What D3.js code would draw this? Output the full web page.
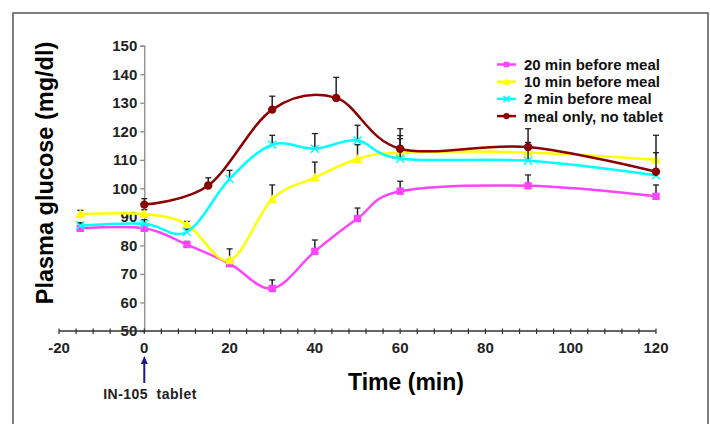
<!DOCTYPE html>
<html><head><meta charset="utf-8">
<script src="https://cdn.jsdelivr.net/npm/d3@7/dist/d3.min.js"></script>
<style>body{margin:0;background:#fff}text{font-family:"Liberation Sans",Arial,sans-serif}</style>
</head><body>
<svg id="chart" width="710" height="424"></svg>
<script>
// ---- data ----
const seriesNames = ["20 min before meal", "10 min before meal", "2 min before meal", "meal only, no tablet"];
const seriesColors = ["#ff44ff", "#ffff00", "#00ffff", "#8b0000"];
const seriesMarkers = ["square", "triangle", "cross", "circle"];

const times20 = [-15, 0, 10, 20, 30, 40, 50, 60, 90, 120];
const glucose20 = [86, 86, 80.3, 73.6, 64.9, 77.9, 89.4, 99, 100.9, 97.2];
const err20 = [1.8, 1.5, 1.1, 1.5, 3, 4, 3.7, 3.5, 3.8, 4];

const times10 = [-15, 0, 10, 20, 30, 40, 50, 60, 90, 120];
const glucose10 = [91, 91, 87.4, 74.8, 96.2, 103.8, 110.3, 112.5, 112.6, 110];
const err10 = [1.3, 1.5, 1, 4, 5, 5.4, 5, 6, 3.5, 2.5];

const times2 = [-15, 0, 10, 20, 30, 40, 50, 60, 90, 120];
const glucose2 = [87, 87.6, 84.7, 103.3, 115.3, 113.9, 116.8, 110.4, 109.7, 104.6];
const err2 = [1, 1.4, 1, 3, 3.3, 5.3, 5.3, 7, 4, 2];

const timesMeal = [0, 15, 30, 45, 60, 90, 120];
const glucoseMeal = [94.3, 101, 127.6, 131.7, 113.9, 114.5, 105.8];
const errMeal = [2.1, 2.7, 4.7, 7.2, 7, 6.4, 12.8];

const xTicks = [-20, 0, 20, 40, 60, 80, 100, 120];
const yTicks = [50, 60, 70, 80, 90, 100, 110, 120, 130, 140, 150];

const seriesTimes = [times20, times10, times2, timesMeal];
const seriesValues = [glucose20, glucose10, glucose2, glucoseMeal];
const seriesErrors = [err20, err10, err2, errMeal];

// ---- drawing ----
const svg = d3.select("#chart");
svg.append("rect").attr("x", 13).attr("y", 13).attr("width", 695).attr("height", 430)
  .attr("fill", "#fff").attr("stroke", "#555").attr("stroke-width", 1.5);

const x = d3.scaleLinear().domain([-20, 120]).range([59, 656]);
const y = d3.scaleLinear().domain([50, 150]).range([331, 45.7]);

// y axis (at x = 0)
const yAxis = svg.append("g").attr("transform", `translate(${x(0)},0)`)
  .call(d3.axisLeft(y).tickValues(yTicks).tickSize(4).tickPadding(3));
yAxis.select(".domain").attr("stroke", "#888").attr("stroke-width", 1.3);
yAxis.selectAll(".tick line").attr("stroke", "#888").attr("stroke-width", 1.3);
yAxis.selectAll("text").attr("font-size", 15).attr("font-weight", "bold").attr("fill", "#222")
  .attr("font-family", '"Liberation Sans",Arial,sans-serif');

// x axis
const xMinor = d3.range(-20, 121, 4);
const xAxis = svg.append("g").attr("transform", `translate(0,${y(50)})`);
xAxis.append("line").attr("x1", x(-20)).attr("x2", x(120)).attr("stroke", "#333").attr("stroke-width", 1.5);
xAxis.selectAll("line.minor").data(xMinor).enter().append("line").attr("class", "minor")
  .attr("x1", d => x(d)).attr("x2", d => x(d)).attr("y1", -2.5).attr("y2", 3)
  .attr("stroke", "#333").attr("stroke-width", 1.2);
xAxis.selectAll("text").data(xTicks).enter().append("text")
  .attr("x", d => x(d)).attr("y", 22).attr("text-anchor", "middle")
  .attr("font-size", 15).attr("font-weight", "bold").attr("fill", "#222").text(d => d);

// axis titles
svg.append("text").attr("transform", "translate(53,173) rotate(-90)").attr("text-anchor", "middle")
  .attr("font-size", 23.5).attr("font-weight", "bold").attr("fill", "#000").text("Plasma glucose (mg/dl)");
svg.append("text").attr("x", 406).attr("y", 390).attr("text-anchor", "middle")
  .attr("font-size", 23).attr("font-weight", "bold").attr("fill", "#000").text("Time (min)");

// annotation arrow
svg.append("line").attr("x1", x(0)).attr("x2", x(0)).attr("y1", 383).attr("y2", 359)
  .attr("stroke", "#1b1b80").attr("stroke-width", 2);
svg.append("path").attr("d", `M${x(0)-3.5},${364} L${x(0)},${356} L${x(0)+3.5},${364} Z`).attr("fill", "#1b1b80");
svg.append("text").attr("x", 150).attr("y", 399).attr("text-anchor", "middle")
  .attr("font-size", 14).attr("font-weight", "bold").attr("letter-spacing", 0.5).attr("word-spacing", 4)
  .attr("fill", "#222").text("IN-105 tablet");

// marker drawing
function drawMarker(g, type, color, cx, cy, s) {
  s = s || 1;
  if (type === "square") {
    g.append("rect").attr("x", cx - 3.7 * s).attr("y", cy - 3.7 * s).attr("width", 7.4 * s).attr("height", 7.4 * s).attr("fill", color);
  } else if (type === "triangle") {
    g.append("path").attr("d", `M${cx},${cy - 5 * s} L${cx + 5 * s},${cy + 4 * s} L${cx - 5 * s},${cy + 4 * s} Z`).attr("fill", color);
  } else if (type === "cross") {
    g.append("path").attr("d", `M${cx - 4 * s},${cy - 4 * s} L${cx + 4 * s},${cy + 4 * s} M${cx + 4 * s},${cy - 4 * s} L${cx - 4 * s},${cy + 4 * s}`)
      .attr("stroke", color).attr("stroke-width", 1.5).attr("fill", "none");
  } else {
    g.append("circle").attr("cx", cx).attr("cy", cy).attr("r", 4.2 * s).attr("fill", color);
  }
}

const line = d3.line().curve(d3.curveCardinal.tension(0)).x(d => x(d.t)).y(d => y(d.v));

seriesNames.forEach((name, i) => {
  const pts = seriesTimes[i].map((t, j) => ({ t, v: seriesValues[i][j], e: seriesErrors[i][j] }));
  const g = svg.append("g");
  // error bars (upper)
  pts.forEach(p => {
    g.append("line").attr("x1", x(p.t)).attr("x2", x(p.t)).attr("y1", y(p.v)).attr("y2", y(p.v + p.e))
      .attr("stroke", "#222").attr("stroke-width", 1.5);
    g.append("line").attr("x1", x(p.t) - 3).attr("x2", x(p.t) + 3).attr("y1", y(p.v + p.e)).attr("y2", y(p.v + p.e))
      .attr("stroke", "#222").attr("stroke-width", 1.3);
  });
  g.append("path").datum(pts).attr("d", line).attr("fill", "none")
    .attr("stroke", seriesColors[i]).attr("stroke-width", 2.5);
  pts.forEach(p => drawMarker(g, seriesMarkers[i], seriesColors[i], x(p.t), y(p.v)));
});

// legend
const legend = svg.append("g");
seriesNames.forEach((name, i) => {
  const ly = 64.5 + i * 17.2;
  legend.append("line").attr("x1", 497).attr("x2", 516).attr("y1", ly).attr("y2", ly)
    .attr("stroke", seriesColors[i]).attr("stroke-width", 2.5);
  drawMarker(legend, seriesMarkers[i], seriesColors[i], 506.5, ly, 0.75);
  legend.append("text").attr("x", 524).attr("y", ly).attr("dy", "0.36em")
    .attr("font-size", 15).attr("font-weight", "bold").attr("fill", "#111").text(name);
});
</script>
</body></html>
